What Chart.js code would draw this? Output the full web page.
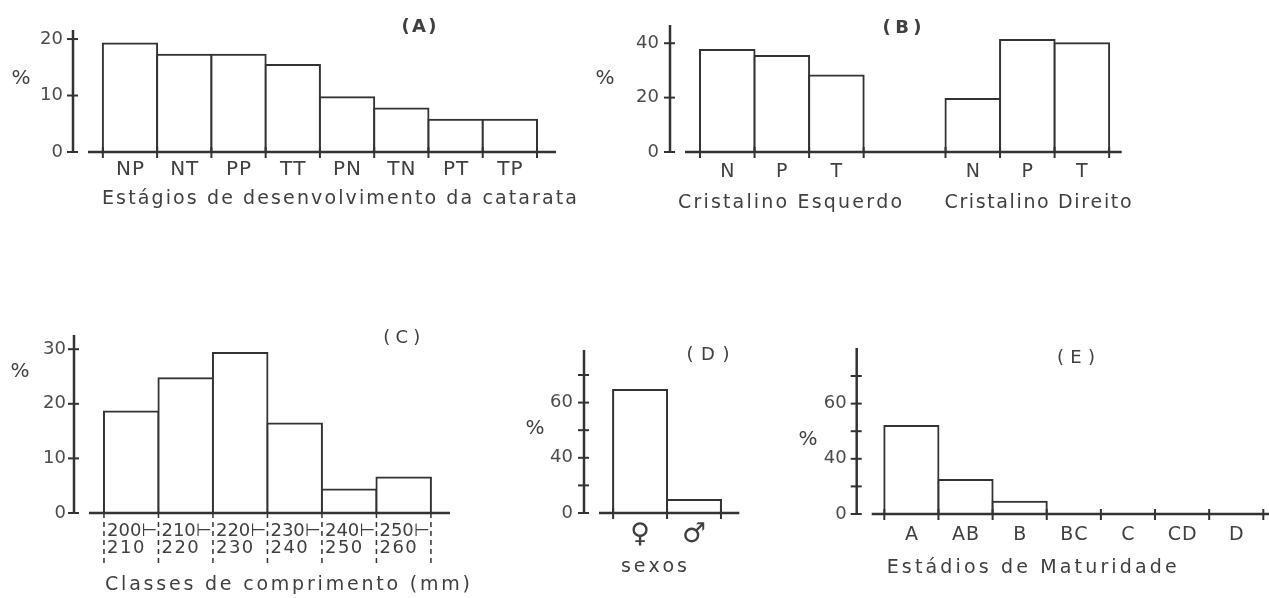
<!DOCTYPE html>
<html><head><meta charset="utf-8">
<script src="https://cdn.jsdelivr.net/npm/chart.js@4.4.1/dist/chart.umd.min.js"></script>
<style>
html,body{margin:0;padding:0;background:#fff;width:1269px;height:598px;overflow:hidden;}
canvas{position:absolute;left:0;top:0;}
</style></head><body>
<canvas id="cA" width="1269" height="598"></canvas>
<canvas id="cB" width="1269" height="598"></canvas>
<canvas id="cC" width="1269" height="598"></canvas>
<canvas id="cD" width="1269" height="598"></canvas>
<canvas id="cE" width="1269" height="598"></canvas>
<script>
// ---------- DATA ----------
// (A) Estágios de desenvolvimento da catarata
const catsA = ['NP','NT','PP','TT','PN','TN','PT','TP'];
const valsA = [19.2, 17.2, 17.2, 15.4, 9.7, 7.7, 5.7, 5.7];
const yTicksA = [0, 10, 20];
const yTickLabelsA = ['0', '10', '20'];
const xTitleA = 'Estágios de desenvolvimento da catarata';

// (B) Cristalino Esquerdo / Cristalino Direito
const catsB = ['N','P','T','N','P','T'];
const groupOfB = [0, 0, 0, 1, 1, 1];
const valsB = [37.5, 35.3, 28.1, 19.5, 41.2, 40.0];
const groupTitlesB = ['Cristalino Esquerdo', 'Cristalino Direito'];
const yTicksB = [0, 20, 40];
const yTickLabelsB = ['0', '20', '40'];

// (C) Classes de comprimento (mm)
const catsC = [['200⊢','210'], ['210⊢','220'], ['220⊢','230'], ['230⊢','240'], ['240⊢','250'], ['250⊢','260']];
const valsC = [18.6, 24.7, 29.3, 16.4, 4.3, 6.5];
const yTicksC = [0, 10, 20, 30];
const yTickLabelsC = ['0', '10', '20', '30'];
const xTitleC = 'Classes de comprimento (mm)';

// (D) sexos
const catsD = ['♀', '♂'];
const valsD = [89.1, 9.4];
const yTicksD = [0, 20, 40, 60, 80, 100];
const yTickLabelsD = ['0', '', '40', '', '60', ''];
const xTitleD = 'sexos';

// (E) Estádios de Maturidade
const catsE = ['A','AB','B','BC','C','CD','D'];
const valsE = [63.8, 24.6, 8.9, 0, 0, 0, 0];
const yTicksE = [0, 20, 40, 60, 80, 100];
const yTickLabelsE = ['0', '', '40', '', '60', ''];
const xTitleE = 'Estádios de Maturidade';

const yTitle = '%';
const panelTitles = ['(A)', '(B)', '(C)', '(D)', '(E)'];

// ---------- STYLE / LAYOUT ----------
const W = 1269, H = 598;
const LINE = '#333333', TEXT = '#404040', TICKTEXT = '#4c4c4c';
const FONT = '"DejaVu Sans", sans-serif';
const YW = 50, AXIS_GAP = 15, GROUP_GAP = 1.5;

function line(ctx, x1, y1, x2, y2) { ctx.beginPath(); ctx.moveTo(x1, y1); ctx.lineTo(x2, y2); ctx.stroke(); }

function spacedText(ctx, text, x, y, opt) {
  opt = opt || {};
  const chars = Array.from(text);
  const ws = chars.map(c => ctx.measureText(c).width);
  const natural = ws.reduce((a, b) => a + b, 0);
  let gap = opt.spacing || 0;
  if (opt.width && chars.length > 1) gap = (opt.width - natural) / (chars.length - 1);
  const total = natural + gap * (chars.length - 1);
  let cx = opt.align === 'left' ? x : x - total / 2;
  ctx.textAlign = 'left'; ctx.textBaseline = 'middle';
  chars.forEach((c, i) => { ctx.fillText(c, cx, y); cx += ws[i] + gap; });
}

function makePanelPlugin(cfg) {
  return {
    id: 'panel' + cfg.name,
    afterDatasetsDraw(chart) {
      const ctx = chart.ctx, xs = chart.scales.x, ys = chart.scales.y, ca = chart.chartArea;
      const y0 = ys.getPixelForValue(0);
      ctx.save();
      ctx.strokeStyle = LINE; ctx.lineCap = 'butt';
      // y axis with cross ticks
      ctx.lineWidth = 2.5;
      line(ctx, ca.left, ca.top, ca.left, y0 + 1);
      ctx.lineWidth = 2;
      cfg.yTicks.forEach(v => { const y = ys.getPixelForValue(v); line(ctx, ca.left - 6, y, ca.left + 5, y); });
      // x axis line
      ctx.lineWidth = 2.5;
      line(ctx, ca.left + AXIS_GAP, y0, ca.right, y0);
      // ticks at bar edges
      const edges = [];
      cfg.positions.forEach(p => [p - 0.5, p + 0.5].forEach(e => {
        if (!edges.some(q => Math.abs(q - e) < 1e-6)) edges.push(e);
      }));
      edges.forEach(e => {
        const x = xs.getPixelForValue(e);
        if (cfg.dashedEdges) {
          ctx.lineWidth = 1.5; ctx.setLineDash([5, 4]);
          line(ctx, x, y0, x, y0 + 50);
          ctx.setLineDash([]);
        } else {
          ctx.lineWidth = 2;
          line(ctx, x, y0 - 5, x, y0 + 6);
        }
      });
      // category labels
      ctx.fillStyle = TEXT;
      cfg.cats.forEach((lab, i) => {
        const p = cfg.positions[i];
        if (Array.isArray(lab)) {
          ctx.font = '18px ' + FONT;
          const xl = xs.getPixelForValue(p - 0.5) + 3;
          lab.forEach((ln, k) => spacedText(ctx, ln, xl, y0 + cfg.labelDy + k * 16.6, { align: 'left', spacing: k === 0 ? 0 : 1.5 }));
        } else {
          ctx.font = (cfg.labelSize || 19) + 'px ' + FONT;
          spacedText(ctx, lab, xs.getPixelForValue(p), y0 + cfg.labelDy, { spacing: 1 });
        }
      });
      // axis titles
      ctx.font = '19px ' + FONT;
      cfg.xTitles.forEach(t => spacedText(ctx, t.text, t.cx, t.cy, { width: t.width }));
      ctx.font = '20px ' + FONT;
      spacedText(ctx, yTitle, cfg.pct[0], cfg.pct[1]);
      // panel title
      ctx.font = (cfg.title.bold ? 'bold ' : '') + '18px ' + FONT;
      spacedText(ctx, cfg.title.text, cfg.title.cx, cfg.title.cy, { width: cfg.title.width });
      ctx.restore();
    }
  };
}

function makeChart(id, cfg) {
  const pos = cfg.positions;
  const data = cfg.values.map((v, i) => ({ x: pos[i], y: v }));
  const B = cfg.box;
  return new Chart(document.getElementById(id), {
    type: 'bar',
    data: { datasets: [{
      data, backgroundColor: '#ffffff', borderColor: LINE, borderWidth: 2,
      borderSkipped: false, inflateAmount: 1, barPercentage: 1, categoryPercentage: 1, clip: false
    }] },
    options: {
      responsive: false, maintainAspectRatio: false, animation: false, devicePixelRatio: 1,
      layout: { padding: { left: B.left - YW, top: B.top, right: W - B.right, bottom: H - B.bottom } },
      plugins: { legend: { display: false }, tooltip: { enabled: false } },
      scales: {
        x: {
          type: 'linear', min: B.xMin, max: B.xMax, offset: false,
          grid: { display: false }, border: { display: false }, ticks: { display: false },
          afterBuildTicks: s => { s.ticks = pos.map(v => ({ value: v })); },
          afterFit: s => { s.height = 0; }
        },
        y: {
          type: 'linear', min: 0, max: B.yMax,
          grid: { display: false, drawTicks: false }, border: { display: false },
          ticks: { padding: B.yPad, color: TICKTEXT, autoSkip: false, font: { family: FONT, size: 18 },
                   callback: (v, i) => cfg.yTickLabels[i] },
          afterBuildTicks: s => { s.ticks = cfg.yTicks.map(v => ({ value: v })); },
          afterFit: s => { s.width = YW; }
        }
      }
    },
    plugins: [makePanelPlugin(cfg)]
  });
}

// Panel A
makeChart('cA', {
  name: 'A', cats: catsA, values: valsA, positions: catsA.map((c, i) => i),
  yTicks: yTicksA, yTickLabels: yTickLabelsA, labelDy: 18, labelSize: 20,
  box: { left: 73, right: 556, top: 30, bottom: 152, xMin: -1.05, xMax: 7.85, yMax: 21.6, yPad: 10 },
  xTitles: [{ text: xTitleA, cx: 339.5, cy: 199, width: 475 }],
  pct: [21, 79], title: { text: panelTitles[0], cx: 419, cy: 27, width: 35, bold: true }
});

// Panel B
makeChart('cB', {
  name: 'B', cats: catsB, values: valsB, positions: catsB.map((c, i) => i + groupOfB[i] * GROUP_GAP),
  yTicks: yTicksB, yTickLabels: yTickLabelsB, labelDy: 20,
  box: { left: 670, right: 1121.7, top: 25, bottom: 152, xMin: -1.05, xMax: 7.23, yMax: 46.7, yPad: 11 },
  xTitles: [{ text: groupTitlesB[0], cx: 790, cy: 203, width: 224 },
            { text: groupTitlesB[1], cx: 1038, cy: 203, width: 187 }],
  pct: [605, 79], title: { text: panelTitles[1], cx: 902, cy: 28, width: 39, bold: true }
});

// Panel C
makeChart('cC', {
  name: 'C', cats: catsC, values: valsC, positions: catsC.map((c, i) => i),
  yTicks: yTicksC, yTickLabels: yTickLabelsC, labelDy: 18.5, dashedEdges: true,
  box: { left: 74, right: 450, top: 335, bottom: 513, xMin: -1.05, xMax: 5.85, yMax: 32.6, yPad: 8 },
  xTitles: [{ text: xTitleC, cx: 287.5, cy: 585, width: 365 }],
  pct: [20, 372], title: { text: panelTitles[2], cx: 401.7, cy: 338, width: 37 }
});

// Panel D
makeChart('cD', {
  name: 'D', cats: catsD, values: valsD, positions: catsD.map((c, i) => i),
  yTicks: yTicksD, yTickLabels: yTickLabelsD, labelDy: 22, labelSize: 27,
  box: { left: 584, right: 739.3, top: 350, bottom: 513, xMin: -1.04, xMax: 1.84, yMax: 118.1, yPad: 11 },
  xTitles: [{ text: xTitleD, cx: 654, cy: 567, width: 66 }],
  pct: [535, 429], title: { text: panelTitles[3], cx: 708, cy: 355, width: 43 }
});

// Panel E
makeChart('cE', {
  name: 'E', cats: catsE, values: valsE, positions: catsE.map((c, i) => i),
  yTicks: yTicksE, yTickLabels: yTickLabelsE, labelDy: 21,
  box: { left: 856.7, right: 1269, top: 348, bottom: 514, xMin: -1.01, xMax: 6.605, yMax: 120.3, yPad: 10 },
  xTitles: [{ text: xTitleE, cx: 1031.7, cy: 568, width: 290 }],
  pct: [808, 440], title: { text: panelTitles[4], cx: 1076, cy: 358, width: 38 }
});
</script>
</body></html>
